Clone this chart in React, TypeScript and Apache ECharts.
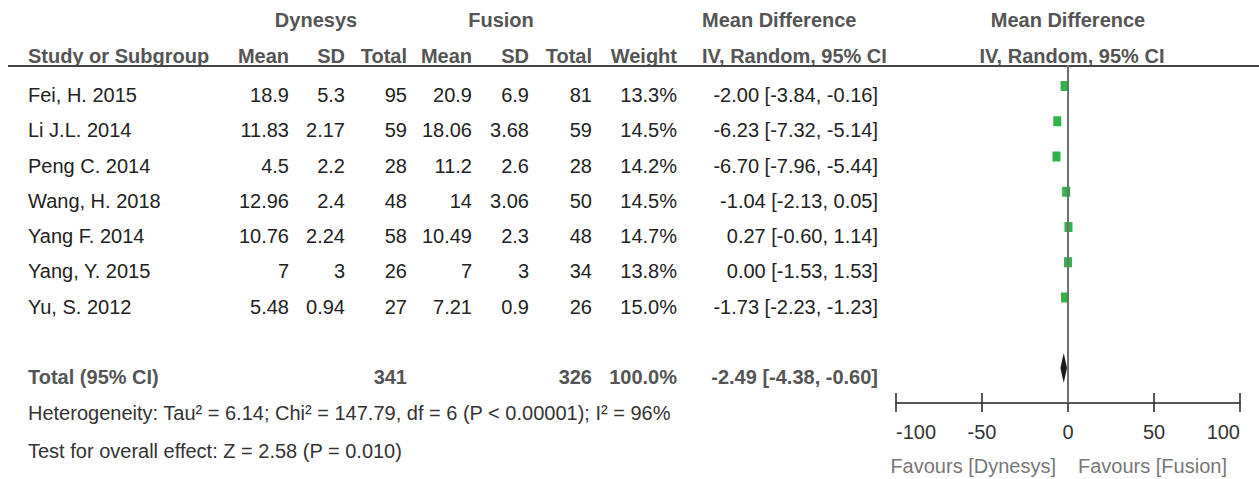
import React, { useEffect, useRef } from "react";
import * as echarts from "echarts";

const studies = ["Fei, H. 2015", "Li J.L. 2014", "Peng C. 2014", "Wang, H. 2018", "Yang F. 2014", "Yang, Y. 2015", "Yu, S. 2012"];
const dynMean = ["18.9", "11.83", "4.5", "12.96", "10.76", "7", "5.48"];
const dynSD = ["5.3", "2.17", "2.2", "2.4", "2.24", "3", "0.94"];
const dynTotal = [95, 59, 28, 48, 58, 26, 27];
const fusMean = ["20.9", "18.06", "11.2", "14", "10.49", "7", "7.21"];
const fusSD = ["6.9", "3.68", "2.6", "3.06", "2.3", "3", "0.9"];
const fusTotal = [81, 59, 28, 50, 48, 34, 26];
const weights = [13.3, 14.5, 14.2, 14.5, 14.7, 13.8, 15.0];
const md = [-2.0, -6.23, -6.7, -1.04, 0.27, 0.0, -1.73];
const ciLow = [-3.84, -7.32, -7.96, -2.13, -0.6, -1.53, -2.23];
const ciHigh = [-0.16, -5.14, -5.44, 0.05, 1.14, 1.53, -1.23];
const totalDyn = 341;
const totalFus = 326;
const totalWeight = 100.0;
const totalMD = -2.49;
const totalLow = -4.38;
const totalHigh = -0.6;
const xTickMin = -100;
const xTickMax = 100;
const xTickStep = 50;
const heterogeneityText = "Heterogeneity: Tau² = 6.14; Chi² = 147.79, df = 6 (P < 0.00001); I² = 96%";
const overallText = "Test for overall effect: Z = 2.58 (P = 0.010)";

const FONT = "'Liberation Sans', Arial, Helvetica, sans-serif";
const FS = 20;
const TOTAL_INDEX = 8;
const Y_MIN = -0.596;
const Y_MAX = 8.993;

const fmt = (v: number) => v.toFixed(2);
const ciText = (m: number, l: number, h: number) => `${fmt(m)} [${fmt(l)}, ${fmt(h)}]`;

function txt(text: string, x: number, y: number, align: string, opts: any = {}) {
  return {
    type: "text",
    x,
    y,
    silent: true,
    style: {
      text,
      fill: opts.fill || "#222",
      fontSize: opts.fontSize || FS,
      fontFamily: FONT,
      fontWeight: opts.bold ? "bold" : "normal",
      textAlign: align,
      textVerticalAlign: "middle",
    },
  };
}

export default function App() {
  const ref = useRef<HTMLDivElement>(null);

  useEffect(() => {
    if (!ref.current) return;
    const chart = echarts.init(ref.current, null, { renderer: "svg" });

    const rowY = (i: number) => 95 + i * 35.25;
    const cols = { dMean: 289, dSD: 345, dTot: 407, fMean: 472, fSD: 529, fTot: 592, w: 677, ci: 878 };
    const hdr = { fill: "#555", bold: true };

    const graphics: any[] = [];
    // header row 1
    graphics.push(txt("Dynesys", 316, 20, "center", hdr));
    graphics.push(txt("Fusion", 501, 20, "center", hdr));
    graphics.push(txt("Mean Difference", 702, 20, "left", hdr));
    graphics.push(txt("Mean Difference", 1068, 20, "center", hdr));
    // header row 2
    graphics.push(txt("Study or Subgroup", 28, 56, "left", hdr));
    graphics.push(txt("Mean", cols.dMean, 56, "right", hdr));
    graphics.push(txt("SD", cols.dSD, 56, "right", hdr));
    graphics.push(txt("Total", cols.dTot, 56, "right", hdr));
    graphics.push(txt("Mean", cols.fMean, 56, "right", hdr));
    graphics.push(txt("SD", cols.fSD, 56, "right", hdr));
    graphics.push(txt("Total", cols.fTot, 56, "right", hdr));
    graphics.push(txt("Weight", cols.w, 56, "right", hdr));
    graphics.push(txt("IV, Random, 95% CI", 702, 56, "left", hdr));
    graphics.push(txt("IV, Random, 95% CI", 1072, 56, "center", hdr));
    // header line
    graphics.push({
      type: "line",
      silent: true,
      shape: { x1: 8, y1: 66, x2: 1259, y2: 66 },
      style: { stroke: "#444", lineWidth: 2 },
    });

    studies.forEach((s, i) => {
      const y = rowY(i);
      graphics.push(txt(s, 28, y, "left"));
      graphics.push(txt(dynMean[i], cols.dMean, y, "right"));
      graphics.push(txt(dynSD[i], cols.dSD, y, "right"));
      graphics.push(txt(String(dynTotal[i]), cols.dTot, y, "right"));
      graphics.push(txt(fusMean[i], cols.fMean, y, "right"));
      graphics.push(txt(fusSD[i], cols.fSD, y, "right"));
      graphics.push(txt(String(fusTotal[i]), cols.fTot, y, "right"));
      graphics.push(txt(weights[i].toFixed(1) + "%", cols.w, y, "right"));
      graphics.push(txt(ciText(md[i], ciLow[i], ciHigh[i]), cols.ci, y, "right"));
    });

    const ty = rowY(TOTAL_INDEX);
    graphics.push(txt("Total (95% CI)", 28, ty, "left", hdr));
    graphics.push(txt(String(totalDyn), cols.dTot, ty, "right", hdr));
    graphics.push(txt(String(totalFus), cols.fTot, ty, "right", hdr));
    graphics.push(txt(totalWeight.toFixed(1) + "%", cols.w, ty, "right", hdr));
    graphics.push(txt(ciText(totalMD, totalLow, totalHigh), cols.ci, ty, "right", hdr));

    graphics.push(txt(heterogeneityText, 28, 413, "left", { fill: "#333" }));
    graphics.push(txt(overallText, 28, 451, "left", { fill: "#333" }));

    graphics.push(txt("Favours [Dynesys]", 1056, 466, "right", { fill: "#777" }));
    graphics.push(txt("Favours [Fusion]", 1078, 466, "left", { fill: "#777" }));

    const axisCommon = {
      type: "value",
      min: xTickMin,
      max: xTickMax,
      interval: xTickStep,
      position: "bottom",
      offset: 0,
      splitLine: { show: false },
    };

    const option: any = {
      animation: false,
      backgroundColor: "#fff",
      grid: { left: 896, right: 19, top: 65, bottom: 76, containLabel: false },
      xAxis: [
        {
          ...axisCommon,
          axisLine: { show: true, onZero: false, lineStyle: { color: "#222", width: 1.5 } },
          axisTick: { show: true, inside: false, length: 9, lineStyle: { color: "#222", width: 1.5 } },
          axisLabel: {
            show: true,
            margin: 19,
            color: "#333",
            fontSize: FS,
            fontFamily: FONT,
            alignMinLabel: "left",
            alignMaxLabel: "right",
          },
        },
        {
          ...axisCommon,
          axisLine: { show: false, onZero: false },
          axisTick: { show: true, inside: true, length: 10, lineStyle: { color: "#222", width: 1.5 } },
          axisLabel: { show: false },
        },
      ],
      yAxis: {
        type: "value",
        inverse: true,
        min: Y_MIN,
        max: Y_MAX,
        show: false,
        splitLine: { show: false },
      },
      graphic: graphics,
      series: [
        {
          type: "custom",
          z: 2,
          silent: true,
          data: studies.map((_, i) => [ciLow[i], ciHigh[i], i]),
          renderItem: (params: any, api: any) => {
            const a = api.coord([api.value(0), api.value(2)]);
            const b = api.coord([api.value(1), api.value(2)]);
            return {
              type: "line",
              shape: { x1: a[0], y1: a[1], x2: b[0], y2: b[1] },
              style: { stroke: "#222", lineWidth: 1 },
            };
          },
        },
        {
          type: "scatter",
          z: 3,
          silent: true,
          symbol: "rect",
          symbolSize: [8, 10],
          itemStyle: { color: "#30b448", opacity: 1 },
          data: studies.map((_, i) => [md[i], i]),
        },
        {
          type: "custom",
          z: 3,
          silent: true,
          data: [[totalLow, totalMD, totalHigh, TOTAL_INDEX]],
          renderItem: (params: any, api: any) => {
            const l = api.coord([api.value(0), api.value(3)]);
            const c = api.coord([api.value(1), api.value(3)]);
            const h = api.coord([api.value(2), api.value(3)]);
            return {
              type: "polygon",
              shape: {
                points: [
                  [l[0], c[1]],
                  [c[0], c[1] - 15],
                  [h[0], c[1]],
                  [c[0], c[1] + 15],
                ],
              },
              style: { fill: "#1a1a1a" },
            };
          },
        },
        {
          type: "line",
          z: 5,
          silent: true,
          symbol: "none",
          lineStyle: { color: "#707070", width: 2 },
          data: [
            [0, Y_MIN],
            [0, Y_MAX],
          ],
        },
      ],
    };

    chart.setOption(option);
    return () => chart.dispose();
  }, []);

  return (
    <div
      ref={ref}
      style={{ position: "fixed", left: 0, top: 0, width: 1259, height: 479, background: "#fff" }}
    />
  );
}
